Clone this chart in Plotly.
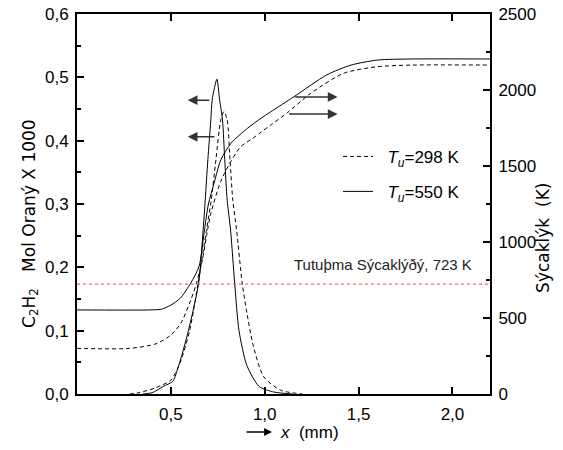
import plotly.graph_objects as go

# C2H2 mol fraction x 1000 (left axis)
x_c2h2_298 = [0.28, 0.33, 0.42, 0.50, 0.55, 0.60, 0.645, 0.69, 0.715, 0.74, 0.766, 0.783,
              0.80, 0.815, 0.83, 0.85, 0.88, 0.905, 0.94, 0.995, 1.085, 1.20]
c2h2_298 = [0.0, 0.002, 0.010, 0.022, 0.050, 0.100, 0.175, 0.259, 0.306, 0.370, 0.433, 0.446,
            0.433, 0.370, 0.306, 0.259, 0.175, 0.128, 0.075, 0.027, 0.006, 0.0]

x_c2h2_550 = [0.35, 0.40, 0.46, 0.51, 0.54, 0.59, 0.648, 0.672, 0.683, 0.697, 0.713, 0.72, 0.745,
              0.76, 0.775, 0.787, 0.80, 0.818, 0.84, 0.863, 0.905, 0.97, 1.05, 1.15]
c2h2_550 = [0.0, 0.002, 0.012, 0.020, 0.043, 0.096, 0.175, 0.259, 0.306, 0.370, 0.433, 0.464, 0.497,
            0.464, 0.433, 0.370, 0.306, 0.259, 0.175, 0.100, 0.045, 0.012, 0.003, 0.0]

# temperature, K (right axis)
x_T_298 = [0.0, 0.28, 0.42, 0.50, 0.553, 0.606, 0.635, 0.668, 0.69, 0.713, 0.766, 0.815, 0.872,
           0.934, 0.98, 1.03, 1.12, 1.245, 1.42, 1.60, 1.78, 2.2]
T_298 = [300, 300, 330, 388, 465, 618, 723, 882, 1040, 1189, 1400, 1520, 1627,
         1680, 1722, 1768, 1850, 1978, 2110, 2153, 2164, 2164]

x_T_550 = [0.0, 0.38, 0.45, 0.50, 0.55, 0.606, 0.65, 0.677, 0.70, 0.73, 0.766, 0.82, 0.908,
           0.98, 1.03, 1.156, 1.33, 1.46, 1.60, 1.78, 2.2]
T_550 = [553, 553, 558, 585, 630, 730, 840, 1060, 1250, 1386, 1540, 1649, 1748,
         1814, 1855, 1956, 2099, 2164, 2197, 2204, 2204]

T_ignition = 723
x_range = [0, 2.2]

x_ticks = [0.5, 1.0, 1.5, 2.0]
x_ticktext = ["0,5", "1,0", "1,5", "2,0"]
y_ticks = [0.0, 0.1, 0.2, 0.3, 0.4, 0.5, 0.6]
y_ticktext = ["0,0", "0,1", "0,2", "0,3", "0,4", "0,5", "0,6"]
y2_ticks = [0, 500, 1000, 1500, 2000, 2500]
y2_ticktext = ["0", "500", "1000", "1500", "2000", "2500"]

FONT = "Liberation Sans, Arial, sans-serif"
DASH = "4px,3px"

fig = go.Figure()

# mol fraction curves
fig.add_trace(go.Scatter(x=x_c2h2_298, y=c2h2_298, mode="lines", showlegend=False,
                         line=dict(color="black", width=1, dash=DASH, shape="spline", smoothing=0.7)))
fig.add_trace(go.Scatter(x=x_c2h2_550, y=c2h2_550, mode="lines", showlegend=False,
                         line=dict(color="black", width=1, shape="spline", smoothing=0.7)))

# ignition temperature line
fig.add_trace(go.Scatter(x=x_range, y=[T_ignition, T_ignition], yaxis="y2", mode="lines",
                         showlegend=False, line=dict(color="rgb(235,70,70)", width=1, dash="dot")))

# temperature curves
fig.add_trace(go.Scatter(x=x_T_298, y=T_298, yaxis="y2", mode="lines", legend="legend",
                         name="&nbsp;&nbsp;<i>T<sub>u</sub></i>=298 K",
                         line=dict(color="black", width=1, dash=DASH, shape="spline", smoothing=0.7)))
fig.add_trace(go.Scatter(x=x_T_550, y=T_550, yaxis="y2", mode="lines", legend="legend2",
                         name="&nbsp;&nbsp;<i>T<sub>u</sub></i>=550 K",
                         line=dict(color="black", width=1, shape="spline", smoothing=0.7)))

axis_common = dict(showline=True, linecolor="black", linewidth=2, ticks="inside",
                   ticklen=7, tickwidth=1.5, tickcolor="black", showgrid=False, zeroline=False,
                   automargin=False, ticklabeloverflow="allow",
                   tickfont=dict(family=FONT, size=17, color="black"))

fig.update_layout(
    width=563, height=450,
    margin=dict(l=77, r=73, t=14, b=56),
    paper_bgcolor="white", plot_bgcolor="white",
    xaxis=dict(range=x_range, tickvals=x_ticks, ticktext=x_ticktext, mirror="ticks",
               ticklabelstandoff=4, **axis_common),
    yaxis=dict(range=[0, 0.6], tickvals=y_ticks, ticktext=y_ticktext, ticklabelstandoff=3,
               minor=dict(dtick=0.05, ticks="inside", ticklen=4, tickcolor="black"),
               **axis_common),
    yaxis2=dict(range=[0, 2500], tickvals=y2_ticks, ticktext=y2_ticktext, overlaying="y",
                side="right", ticklabelstandoff=3,
                minor=dict(dtick=250, ticks="inside", ticklen=4, tickcolor="black"),
                **axis_common),
    legend=dict(x=0.632, y=0.624, xanchor="left", yanchor="middle", bgcolor="rgba(0,0,0,0)",
                font=dict(family=FONT, size=17, color="black")),
    legend2=dict(x=0.632, y=0.532, xanchor="left", yanchor="middle", bgcolor="rgba(0,0,0,0)",
                 font=dict(family=FONT, size=17, color="black")),
)

TITLE_FONT = dict(family="DejaVu Sans, sans-serif", size=17, color="black")

# axis titles
fig.add_annotation(xref="paper", yref="paper", x=-0.114, y=0.45, xanchor="center", yanchor="middle",
                   textangle=-90, showarrow=False,
                   text="C<sub>2</sub>H<sub>2</sub>&nbsp;&nbsp;&nbsp;Mol Oraný X 1000", font=TITLE_FONT)
fig.add_annotation(xref="paper", yref="paper", x=1.13, y=0.41, xanchor="center", yanchor="middle",
                   textangle=-90, showarrow=False,
                   text="Sýcaklýk&nbsp;&nbsp;(K)", font=TITLE_FONT)
fig.add_annotation(xref="paper", yref="paper", x=0.487, y=-0.1, xanchor="left", yanchor="middle",
                   showarrow=False,
                   text="<i>x</i>&nbsp;&nbsp;(mm)", font=dict(family=FONT, size=17, color="black"))
fig.add_annotation(xref="x domain", yref="y domain", axref="x domain", ayref="y domain",
                   x=0.472, y=-0.1, ax=0.407, ay=-0.1, text="",
                   showarrow=True, arrowhead=2, arrowsize=1.2, arrowwidth=1.3, arrowcolor="black")

# ignition label
fig.add_annotation(xref="paper", yref="paper", x=0.962, y=0.342, xanchor="right", yanchor="middle",
                   showarrow=False,
                   text="Tutuþma Sýcaklýðý, 723 K", font=dict(family=FONT, size=15, color="#222"))

# arrows pointing to the matching axis
arrow_style = dict(showarrow=True, text="", arrowhead=2, arrowsize=1.3, arrowwidth=1.5,
                   arrowcolor="#333", axref="x", ayref="y")
fig.add_annotation(x=0.59, y=0.464, ax=0.713, ay=0.464, xref="x", yref="y", **arrow_style)
fig.add_annotation(x=0.59, y=0.406, ax=0.74, ay=0.406, xref="x", yref="y", **arrow_style)
arrow_style2 = dict(arrow_style, ayref="y2")
fig.add_annotation(x=1.388, y=1954, ax=1.154, ay=1954, xref="x", yref="y2", **arrow_style2)
fig.add_annotation(x=1.388, y=1842, ax=1.122, ay=1842, xref="x", yref="y2", **arrow_style2)

# drop the default page margin so the figure sits at the window's corner
fig.write_html("out.html", config={"displayModeBar": False},
               post_script="document.body.style.margin='0';")
